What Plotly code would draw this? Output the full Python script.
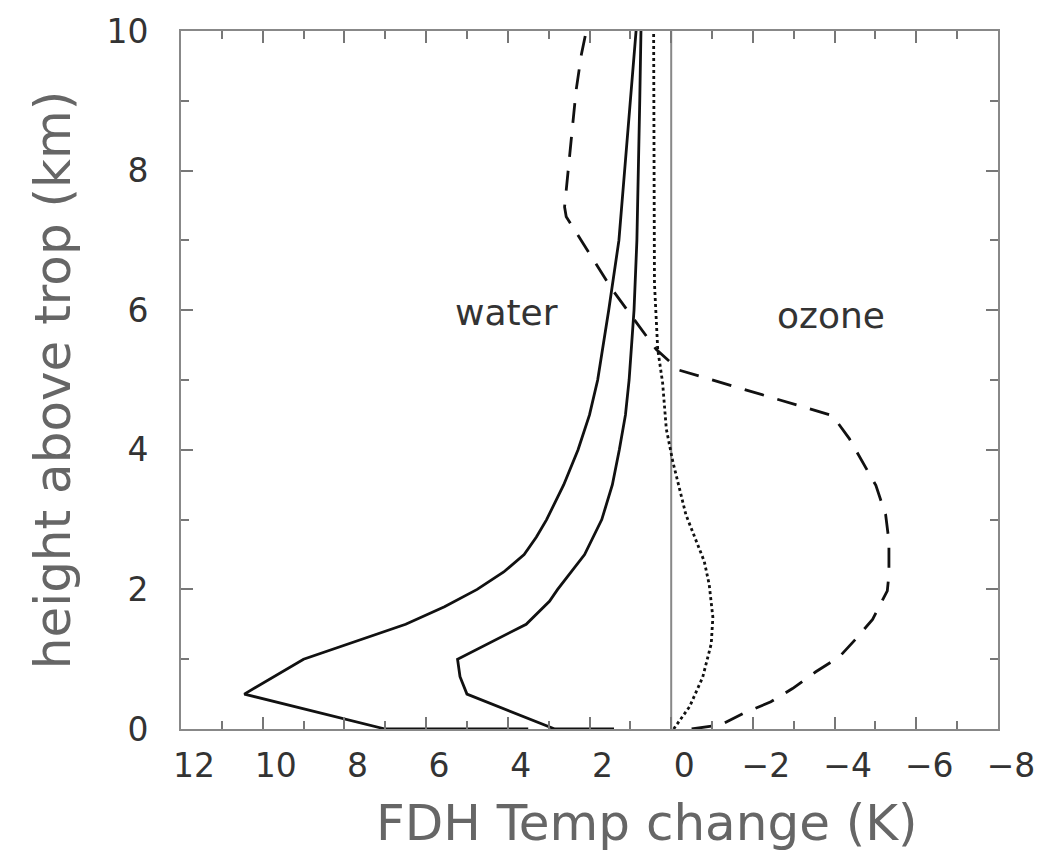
import plotly.graph_objects as go

# Outer solid water curve
water_outer_h = [0, 0, 0.5, 1.0, 1.5, 1.75, 2.0, 2.25, 2.5, 2.75, 3.0, 3.5, 4.0, 4.5, 5.0, 5.5, 6.0, 7.0, 8.0, 9.0, 10.0]
water_outer_t = [3.5, 7.0, 10.45, 9.0, 6.5, 5.55, 4.75, 4.1, 3.6, 3.3, 3.05, 2.63, 2.28, 2.0, 1.8, 1.66, 1.53, 1.28, 1.14, 0.99, 0.86]

# Inner solid water curve
water_inner_h = [0, 0, 0.5, 0.75, 1.0, 1.5, 1.83, 2.0, 2.5, 3.0, 3.5, 4.0, 4.5, 5.0, 5.5, 6.0, 7.0, 8.0, 9.0, 10.0]
water_inner_t = [1.4, 2.85, 5.0, 5.17, 5.23, 3.55, 2.98, 2.78, 2.12, 1.70, 1.44, 1.27, 1.12, 1.03, 0.97, 0.91, 0.84, 0.80, 0.77, 0.74]

# Dashed ozone curve
ozone_h = [0, 0.06, 0.22, 0.39, 0.58, 0.82, 1.03, 1.29, 1.57, 1.98, 2.21, 2.69, 3.07, 3.49, 4.16, 4.49,
           5.14, 5.44, 6.3, 7.0, 7.34, 7.48, 8.19, 9.14, 9.66, 10.0]
ozone_t = [-0.5, -1.22, -1.75, -2.44, -2.97, -3.54, -4.11, -4.52, -4.93, -5.29, -5.33, -5.33, -5.25, -5.01, -4.36, -3.95,
           -0.2, 0.37, 1.45, 2.2, 2.57, 2.61, 2.49, 2.33, 2.2, 2.08]

# Dotted curve
dotted_h = [0, 0.32, 0.74, 1.22, 1.6, 2.07, 2.4, 3.07, 3.83, 4.30, 4.96, 5.44, 6.39, 8.0, 10.0]
dotted_t = [-0.06, -0.45, -0.77, -0.98, -1.02, -0.93, -0.81, -0.36, -0.04, 0.12, 0.21, 0.33, 0.41, 0.42, 0.43]

x_ticks = [12, 10, 8, 6, 4, 2, 0, -2, -4, -6, -8]
x_ticklabels = ["12", "10", "8", "6", "4", "2", "0", "\u22122", "\u22124", "\u22126", "\u22128"]
y_ticks = [0, 2, 4, 6, 8, 10]

labels = [("water", 4.03, 5.96), ("ozone", -3.92, 5.93)]
x_title = "FDH Temp change (K)"
y_title = "height above trop (km)"

FONT = "DejaVu Sans"
line_col = "#111111"

fig = go.Figure()
fig.add_trace(go.Scatter(x=[0, 0], y=[0, 10], mode="lines",
                         line=dict(color="#888888", width=2), hoverinfo="skip"))
fig.add_trace(go.Scatter(x=water_outer_t, y=water_outer_h, mode="lines",
                         line=dict(color=line_col, width=2.8)))
fig.add_trace(go.Scatter(x=water_inner_t, y=water_inner_h, mode="lines",
                         line=dict(color=line_col, width=2.8)))
fig.add_trace(go.Scatter(x=ozone_t, y=ozone_h, mode="lines",
                         line=dict(color=line_col, width=2.8, dash="20px,14px")))
fig.add_trace(go.Scatter(x=dotted_t, y=dotted_h, mode="lines",
                         line=dict(color=line_col, width=2.8, dash="3px,3px")))

for txt, xx, yy in labels:
    fig.add_annotation(x=xx, y=yy, text=txt, showarrow=False,
                       font=dict(family=FONT, size=36, color="#333333"))

# x-axis title (offset to the right as in the original)
fig.add_annotation(xref="paper", yref="paper", x=0.570, y=0, yshift=-94,
                   xanchor="center", yanchor="middle", text=x_title, showarrow=False,
                   font=dict(family=FONT, size=50, color="#666666"))

axis_common = dict(
    showgrid=False, zeroline=False, showline=True, linecolor="#888888", linewidth=2,
    mirror="ticks", ticks="inside", ticklen=12, tickwidth=2, tickcolor="#777777",
    tickfont=dict(family=FONT, size=33, color="#333333"),
)

fig.update_xaxes(range=[12, -8], tickvals=x_ticks, ticktext=x_ticklabels,
                 minor=dict(dtick=1, ticks="inside", ticklen=8, tickwidth=1.5, tickcolor="#777777"),
                 ticklabelshift=-13, ticklabelstandoff=6,
                 **axis_common)
fig.update_yaxes(range=[0, 10], tickvals=y_ticks,
                 minor=dict(dtick=1, ticks="inside", ticklen=8, tickwidth=1.5, tickcolor="#777777"),
                 ticklabelstandoff=24,
                 title=dict(text=y_title, font=dict(family=FONT, size=50, color="#666666"), standoff=20),
                 **axis_common)

fig.update_layout(
    width=1047, height=855, showlegend=False,
    margin=dict(l=181, r=48, t=26, b=126),
    plot_bgcolor="white", paper_bgcolor="white",
)

fig.write_html("out.html")
